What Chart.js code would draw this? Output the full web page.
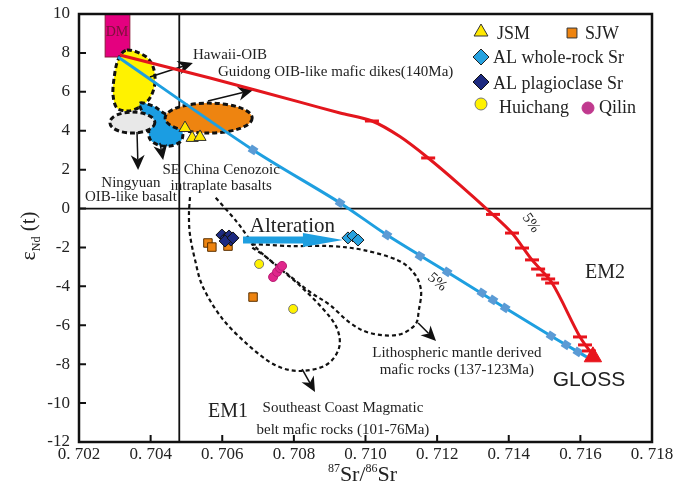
<!DOCTYPE html>
<html><head><meta charset="utf-8">
<script src="https://cdn.jsdelivr.net/npm/chart.js@4/dist/chart.umd.min.js"></script>
<style>html,body{margin:0;padding:0;background:#fff}canvas{display:block}</style>
</head><body>
<canvas id="c" width="675" height="487"></canvas>
<script>
// ---- tick labels ----
const xTicks = [0.702,0.704,0.706,0.708,0.710,0.712,0.714,0.716,0.718];
const xTickLabels = ['0. 702','0. 704','0. 706','0. 708','0. 710','0. 712','0. 714','0. 716','0. 718'];
const yTicks = [-12,-10,-8,-6,-4,-2,0,2,4,6,8,10];
const yTickLabels = ['-12','-10','-8','-6','-4','-2','0','2','4','6','8','10'];

// ---- sample series (87Sr/86Sr , eNd(t)) ----
const jsmX = [0.70496,0.70516,0.70538];
const jsmY = [4.14,3.63,3.68];
const sjwX = [0.70560,0.70571,0.70616,0.70686];
const sjwY = [-1.77,-1.98,-1.93,-4.55];
const alPlagX = [0.70599,0.70610,0.70619,0.70624,0.70608,0.70630];
const alPlagY = [-1.36,-1.51,-1.41,-1.62,-1.67,-1.51];
const alWrX = [0.70951,0.70965,0.70979];
const alWrY = [-1.51,-1.41,-1.62];
const huichangX = [0.70703,0.70798];
const huichangY = [-2.85,-5.16];
const qilinX = [0.70742,0.70753,0.70761,0.70767];
const qilinY = [-3.52,-3.26,-3.06,-2.95];

// ---- mixing curves DM -> GLOSS ----
const blueCurveX = [0.70309,0.70686,0.70929,0.71060,0.71228,0.71390,0.71518,0.71618];
const blueCurveY = [7.79,3.01,0.29,-1.36,-3.26,-5.11,-6.55,-7.63];
const blueTickX = [0.70686,0.70929,0.71060,0.71152,0.71228,0.71325,0.71356,0.71390,0.71518,0.71560,0.71593];
const blueTickY = [3.01,0.29,-1.36,-2.44,-3.26,-4.34,-4.70,-5.11,-6.55,-7.01,-7.37];
const redCurveX = [0.70314,0.70566,0.70817,0.70929,0.71018,0.71096,0.71175,0.71264,0.71348,0.71409,0.71465,0.71521,0.71599,0.71641];
const redCurveY = [7.89,6.71,5.47,4.91,4.50,3.70,2.60,1.21,-0.18,-1.26,-2.64,-3.83,-6.60,-7.68];
const redTickX = [0.71018,0.71175,0.71356,0.71409,0.71437,0.71465,0.71482,0.71496,0.71510,0.71521,0.71599,0.71613,0.71624];
const redTickY = [4.50,2.60,-0.30,-1.26,-2.03,-2.64,-3.11,-3.42,-3.62,-3.83,-6.60,-7.01,-7.32];
const glossX = [0.71635];
const glossY = [-7.62];

// ---- DM box ----
const dmX = [0.70273,0.70342];
const dmY = [7.79,10];

// ---- reference lines ----
const refSrX = 0.7048;
const refNdY = 0;

// ---- filled fields ----
const hawaiiX = [0.70334,0.70384,0.70407,0.70412,0.70398,0.70370,0.70337,0.70306,0.70295,0.70298,0.70309];
const hawaiiY = [8.15,7.84,7.28,6.45,5.68,5.22,5.01,5.17,5.84,6.71,7.64];
const seChinaX = [0.70370,0.70407,0.70432,0.70460,0.70482,0.70490,0.70482,0.70454,0.70421,0.70398,0.70393,0.70379];
const seChinaY = [5.42,5.27,4.96,4.65,4.24,3.78,3.42,3.21,3.27,3.57,4.14,4.86];
const ningyuanEll = [0.70349,4.42,0.000628,0.54];   // cx, cy, rx, ry
const guidongEll = [0.70562,4.65,0.001215,0.77];

// ---- dashed outline fields ----
const seCoastX = [0.70510,0.70507,0.70510,0.70524,0.70546,0.70599,0.70672,0.70747,0.70817,0.70890,0.70926,0.70920,0.70879,0.70812,0.70739,0.70691,0.70641,0.70580];
const seCoastY = [0.59,-0.33,-1.36,-2.64,-4.03,-5.63,-7.01,-8.04,-8.35,-8.04,-7.17,-6.14,-5.11,-3.88,-2.75,-1.93,-0.69,0.59];
const lithoX = [0.70683,0.70789,0.70901,0.70993,0.71088,0.71135,0.71155,0.71149,0.71138,0.71088,0.71013,0.70957,0.70901,0.70845,0.70775,0.70719];
const lithoY = [-1.87,-1.93,-1.93,-2.13,-2.64,-3.31,-4.19,-5.21,-5.99,-6.50,-6.40,-5.88,-4.96,-4.29,-3.26,-2.44];

const pts = (xs, ys) => xs.map((x, i) => ({x, y: ys[i]}));

// annotation arrows [x0,y0,x1,y1] in data units
const blackArrows = [
  [0.70398,6.76,0.70518,7.48],
  [0.70560,5.53,0.70686,6.09],
  [0.70362,3.93,0.70365,1.98],
  [0.70426,3.37,0.70435,2.50],
  [0.71147,-5.88,0.71197,-6.81],
  [0.70823,-8.25,0.70859,-9.43]
];
const alterationArrow = [0.70658,-1.62,0.70937,-1.62];

const SERIF = '"Liberation Serif", "Times New Roman", serif';
const SANS = '"Liberation Sans", Arial, sans-serif';
const labels = [
  {t:'Hawaii-OIB', x:0.70518, y:7.89, a:'left', f:'15px '+SERIF},
  {t:'Guidong OIB-like mafic dikes(140Ma)', x:0.70588, y:7.02, a:'left', f:'15px '+SERIF},
  {t:'Ningyuan', x:0.70345, y:1.31, a:'center', f:'15px '+SERIF},
  {t:'OIB-like basalt', x:0.70345, y:0.59, a:'center', f:'15px '+SERIF},
  {t:'SE China Cenozoic', x:0.70597, y:1.98, a:'center', f:'15px '+SERIF},
  {t:'intraplate basalts', x:0.70597, y:1.16, a:'center', f:'15px '+SERIF},
  {t:'Alteration', x:0.70677, y:-0.90, a:'left', f:'21px '+SERIF},
  {t:'EM2', x:0.71669, y:-3.31, a:'center', f:'20px '+SERIF},
  {t:'EM1', x:0.70616, y:-10.46, a:'center', f:'20px '+SERIF},
  {t:'GLOSS', x:0.71624, y:-8.81, a:'center', f:'21px '+SANS},
  {t:'Southeast Coast Magmatic', x:0.70937, y:-10.25, a:'center', f:'15px '+SERIF},
  {t:'belt mafic rocks (101-76Ma)', x:0.70937, y:-11.38, a:'center', f:'15px '+SERIF},
  {t:'Lithospheric mantle derived', x:0.71255, y:-7.43, a:'center', f:'15px '+SERIF},
  {t:'mafic rocks (137-123Ma)', x:0.71255, y:-8.30, a:'center', f:'15px '+SERIF},
  {t:'5%', x:0.71462, y:-0.75, a:'center', f:'15px '+SERIF, r:55},
  {t:'5%', x:0.71200, y:-3.78, a:'center', f:'15px '+SERIF, r:40},
  {t:'DM', x:0.70306, y:9.07, a:'center', f:'14px '+SERIF, c:'#7a1238'}
];

function smooth(ctx, p, closed){
  const n = p.length;
  ctx.moveTo(p[0][0], p[0][1]);
  const segs = closed ? n : n - 1;
  for (let i = 0; i < segs; i++){
    const p0 = p[closed ? (i - 1 + n) % n : Math.max(i - 1, 0)];
    const p1 = p[i];
    const p2 = p[(i + 1) % n];
    const p3 = p[closed ? (i + 2) % n : Math.min(i + 2, n - 1)];
    ctx.bezierCurveTo(p1[0] + (p2[0] - p0[0]) / 6, p1[1] + (p2[1] - p0[1]) / 6,
                      p2[0] - (p3[0] - p1[0]) / 6, p2[1] - (p3[1] - p1[1]) / 6,
                      p2[0], p2[1]);
  }
  if (closed) ctx.closePath();
}

const drawPlugin = {
  id: 'draw',
  beforeDatasetsDraw(chart){
    const ctx = chart.ctx, sx = chart.scales.x, sy = chart.scales.y, A = chart.chartArea;
    const P = (xs, ys) => xs.map((x, i) => [sx.getPixelForValue(x), sy.getPixelForValue(ys[i])]);
    ctx.save();
    ctx.strokeStyle = '#111'; ctx.lineWidth = 1.8;
    ctx.beginPath();
    const vx = sx.getPixelForValue(refSrX), hy = sy.getPixelForValue(refNdY);
    ctx.moveTo(vx, A.top); ctx.lineTo(vx, A.bottom);
    ctx.moveTo(A.left, hy); ctx.lineTo(A.right, hy);
    ctx.stroke();
    const bx0 = sx.getPixelForValue(dmX[0]), bx1 = sx.getPixelForValue(dmX[1]);
    const by0 = sy.getPixelForValue(dmY[1]), by1 = sy.getPixelForValue(dmY[0]);
    ctx.fillStyle = '#e4007f'; ctx.fillRect(bx0, by0, bx1 - bx0, by1 - by0);
    ctx.strokeStyle = '#8a1a3a'; ctx.lineWidth = 1; ctx.strokeRect(bx0, by0, bx1 - bx0, by1 - by0);
    const dashed = () => { ctx.setLineDash([5,3]); ctx.lineWidth = 3; ctx.strokeStyle = '#111'; };
    const poly = (xs, ys, fill) => {
      ctx.beginPath(); smooth(ctx, P(xs, ys), true);
      ctx.fillStyle = fill; ctx.fill(); dashed(); ctx.stroke(); ctx.setLineDash([]);
    };
    const ell = (e, fill) => {
      const cx = sx.getPixelForValue(e[0]), cy = sy.getPixelForValue(e[1]);
      const rx = Math.abs(sx.getPixelForValue(e[0] + e[2]) - cx), ry = Math.abs(sy.getPixelForValue(e[1] + e[3]) - cy);
      ctx.beginPath(); ctx.ellipse(cx, cy, rx, ry, 0, 0, Math.PI * 2);
      ctx.fillStyle = fill; ctx.fill(); dashed(); ctx.stroke(); ctx.setLineDash([]);
    };
    poly(hawaiiX, hawaiiY, '#fff200');
    poly(seChinaX, seChinaY, '#1b9de2');
    ell(ningyuanEll, '#e8e8e8');
    ell(guidongEll, '#ee8410');
    ctx.setLineDash([4,3]); ctx.lineWidth = 2.2; ctx.strokeStyle = '#111';
    ctx.beginPath(); smooth(ctx, P(seCoastX, seCoastY), false); ctx.stroke();
    ctx.beginPath(); smooth(ctx, P(lithoX, lithoY), true); ctx.stroke();
    ctx.setLineDash([]);
    blackArrows.forEach(a => {
      const x0 = sx.getPixelForValue(a[0]), y0 = sy.getPixelForValue(a[1]);
      const x1 = sx.getPixelForValue(a[2]), y1 = sy.getPixelForValue(a[3]);
      const ang = Math.atan2(y1 - y0, x1 - x0), L = 15, W = 7;
      ctx.strokeStyle = '#111'; ctx.lineWidth = 1.5;
      ctx.beginPath(); ctx.moveTo(x0, y0);
      ctx.lineTo(x1 - Math.cos(ang) * L * 0.7, y1 - Math.sin(ang) * L * 0.7); ctx.stroke();
      ctx.fillStyle = '#111'; ctx.beginPath();
      ctx.moveTo(x1, y1);
      ctx.lineTo(x1 - Math.cos(ang) * L - Math.sin(ang) * W, y1 - Math.sin(ang) * L + Math.cos(ang) * W);
      ctx.lineTo(x1 - Math.cos(ang) * L * 0.7, y1 - Math.sin(ang) * L * 0.7);
      ctx.lineTo(x1 - Math.cos(ang) * L + Math.sin(ang) * W, y1 - Math.sin(ang) * L - Math.cos(ang) * W);
      ctx.closePath(); ctx.fill();
    });
    {
      const x0 = sx.getPixelForValue(alterationArrow[0]), y0 = sy.getPixelForValue(alterationArrow[1]);
      const x1 = sx.getPixelForValue(alterationArrow[2]), y1 = sy.getPixelForValue(alterationArrow[3]);
      const hl = 40;
      ctx.fillStyle = '#1e9fe0';
      ctx.beginPath();
      ctx.moveTo(x0, y0 - 3.5); ctx.lineTo(x1 - hl, y0 - 3.5); ctx.lineTo(x1 - hl, y0 - 7);
      ctx.lineTo(x1, y1); ctx.lineTo(x1 - hl, y0 + 7); ctx.lineTo(x1 - hl, y0 + 3.5);
      ctx.lineTo(x0, y0 + 3.5); ctx.closePath(); ctx.fill();
    }
    ctx.restore();
  },
  afterDatasetsDraw(chart){
    const ctx = chart.ctx, sx = chart.scales.x, sy = chart.scales.y, A = chart.chartArea;
    ctx.save();
    labels.forEach(l => {
      ctx.font = l.f; ctx.fillStyle = l.c || '#222'; ctx.textAlign = l.a; ctx.textBaseline = 'middle';
      const px = sx.getPixelForValue(l.x), py = sy.getPixelForValue(l.y);
      if (l.r){ ctx.save(); ctx.translate(px, py); ctx.rotate(l.r * Math.PI / 180); ctx.fillText(l.t, 0, 0); ctx.restore(); }
      else ctx.fillText(l.t, px, py);
    });
    const pt = (style, x, y, r, fill, stroke) => {
      ctx.fillStyle = fill; ctx.strokeStyle = stroke; ctx.lineWidth = 1;
      Chart.helpers.drawPoint(ctx, {pointStyle: style, radius: r, rotation: 0, borderWidth: 1}, x, y);
    };
    pt('triangle', 481, 32, 8, '#ffe800', '#333');
    pt('rect', 572, 33, 7, '#ee8410', '#333');
    pt('rectRot', 481, 57, 8, '#27a2e0', '#222');
    pt('rectRot', 481, 82, 8, '#1d2a80', '#111');
    pt('circle', 481, 104, 6, '#fff200', '#777');
    pt('circle', 588, 108, 6, '#c0398e', '#c0398e');
    ctx.font = '18px ' + SERIF; ctx.fillStyle = '#222'; ctx.textAlign = 'left'; ctx.textBaseline = 'middle';
    ctx.fillText('JSM', 497, 34);
    ctx.fillText('SJW', 585, 34);
    ctx.fillText('AL whole-rock Sr', 493, 58);
    ctx.fillText('AL plagioclase Sr', 493, 84);
    ctx.fillText('Huichang', 499, 108);
    ctx.fillText('Qilin', 599, 108);
    // frame
    ctx.strokeStyle = '#111'; ctx.lineWidth = 2.5;
    ctx.strokeRect(A.left, A.top, A.right - A.left, A.bottom - A.top);
    // inside tick marks
    ctx.lineWidth = 2;
    ctx.beginPath();
    xTicks.forEach(v => { const p = sx.getPixelForValue(v); ctx.moveTo(p, A.bottom); ctx.lineTo(p, A.bottom - 7); });
    yTicks.forEach(v => { const p = sy.getPixelForValue(v); ctx.moveTo(A.left, p); ctx.lineTo(A.left + 7, p); });
    ctx.stroke();
    // tick labels
    ctx.fillStyle = '#222'; ctx.font = '17px ' + SERIF;
    ctx.textAlign = 'center'; ctx.textBaseline = 'top';
    xTicks.forEach((v, i) => ctx.fillText(xTickLabels[i], sx.getPixelForValue(v), A.bottom + 4));
    ctx.textAlign = 'right'; ctx.textBaseline = 'middle';
    yTicks.forEach((v, i) => ctx.fillText(yTickLabels[i], A.left - 9, sy.getPixelForValue(v)));
    // axis titles
    ctx.textBaseline = 'alphabetic';
    const parts = [['87', 12, -9], ['Sr/', 22, 0], ['86', 12, -9], ['Sr', 22, 0]];
    let w = 0;
    parts.forEach(p => { ctx.font = p[1] + 'px ' + SERIF; w += ctx.measureText(p[0]).width; });
    let x = (A.left + A.right) / 2 - w / 2 - 3;
    parts.forEach(p => { ctx.font = p[1] + 'px ' + SERIF; ctx.textAlign = 'left'; ctx.fillText(p[0], x, 481 + p[2]); x += ctx.measureText(p[0]).width; });
    ctx.save();
    ctx.translate(35, 236); ctx.rotate(-Math.PI / 2);
    const yp = [['ε', 22, 0], ['Nd', 12, 5], [' (t)', 21, 0]];
    let yw = 0;
    yp.forEach(p => { ctx.font = p[1] + 'px ' + SERIF; yw += ctx.measureText(p[0]).width; });
    let xx = -yw / 2;
    yp.forEach(p => { ctx.font = p[1] + 'px ' + SERIF; ctx.textAlign = 'left'; ctx.fillText(p[0], xx, p[2]); xx += ctx.measureText(p[0]).width; });
    ctx.restore();
    ctx.restore();
  }
};

new Chart(document.getElementById('c'), {
  type: 'scatter',
  data: {
    datasets: [
      {label:'Qilin', data: pts(qilinX, qilinY), pointStyle:'circle', pointRadius:4.5, backgroundColor:'#e0268c', borderColor:'#b81d72', borderWidth:1},
      {label:'Huichang', data: pts(huichangX, huichangY), pointStyle:'circle', pointRadius:4.5, backgroundColor:'#fff200', borderColor:'#777', borderWidth:1},
      {label:'AL whole-rock Sr', data: pts(alWrX, alWrY), pointStyle:'rectRot', pointRadius:6, backgroundColor:'#27a2e0', borderColor:'#1a1a1a', borderWidth:1},
      {label:'AL plagioclase Sr', data: pts(alPlagX, alPlagY), pointStyle:'rectRot', pointRadius:6, backgroundColor:'#1d2a80', borderColor:'#111', borderWidth:1},
      {label:'SJW', data: pts(sjwX, sjwY), pointStyle:'rect', pointRadius:6, backgroundColor:'#ee8410', borderColor:'#5a3000', borderWidth:1},
      {label:'JSM', data: pts(jsmX, jsmY), pointStyle:'triangle', pointRadius:7, backgroundColor:'#ffe800', borderColor:'#333', borderWidth:1},
      {label:'GLOSS', data: pts(glossX, glossY), pointStyle:'triangle', pointRadius:10, backgroundColor:'#e8141c', borderColor:'#e8141c', borderWidth:1},
      {label:'red ticks', data: pts(redTickX, redTickY), pointStyle:'line', pointRadius:7, borderColor:'#e8141c', borderWidth:3},
      {label:'red curve', data: pts(redCurveX, redCurveY), showLine:true, tension:0.3, borderColor:'#e3161d', borderWidth:3, pointRadius:0},
      {label:'blue ticks', data: pts(blueTickX, blueTickY), pointStyle:'rect', rotation:33, pointRadius:5.5, backgroundColor:'#5b9bd5', borderColor:'#5b9bd5', borderWidth:0},
      {label:'blue curve', data: pts(blueCurveX, blueCurveY), showLine:true, tension:0.3, borderColor:'#1e9fe0', borderWidth:3, pointRadius:0}
    ]
  },
  options: {
    responsive:false, animation:false,
    layout:{padding:{top:14, right:23, left:0, bottom:0}},
    plugins:{legend:{display:false}, tooltip:{enabled:false}},
    scales:{
      x:{type:'linear', min:0.702, max:0.718,
         afterBuildTicks: s => { s.ticks = xTicks.map(v => ({value:v})); },
         afterFit: s => { s.height = 45; },
         grid:{display:false, drawTicks:false}, border:{display:false},
         ticks:{display:false}},
      y:{type:'linear', min:-12, max:10,
         afterBuildTicks: s => { s.ticks = yTicks.map(v => ({value:v})); },
         afterFit: s => { s.width = 79; },
         grid:{display:false, drawTicks:false}, border:{display:false},
         ticks:{display:false}}
    }
  },
  plugins:[drawPlugin]
});
</script>
</body></html>
